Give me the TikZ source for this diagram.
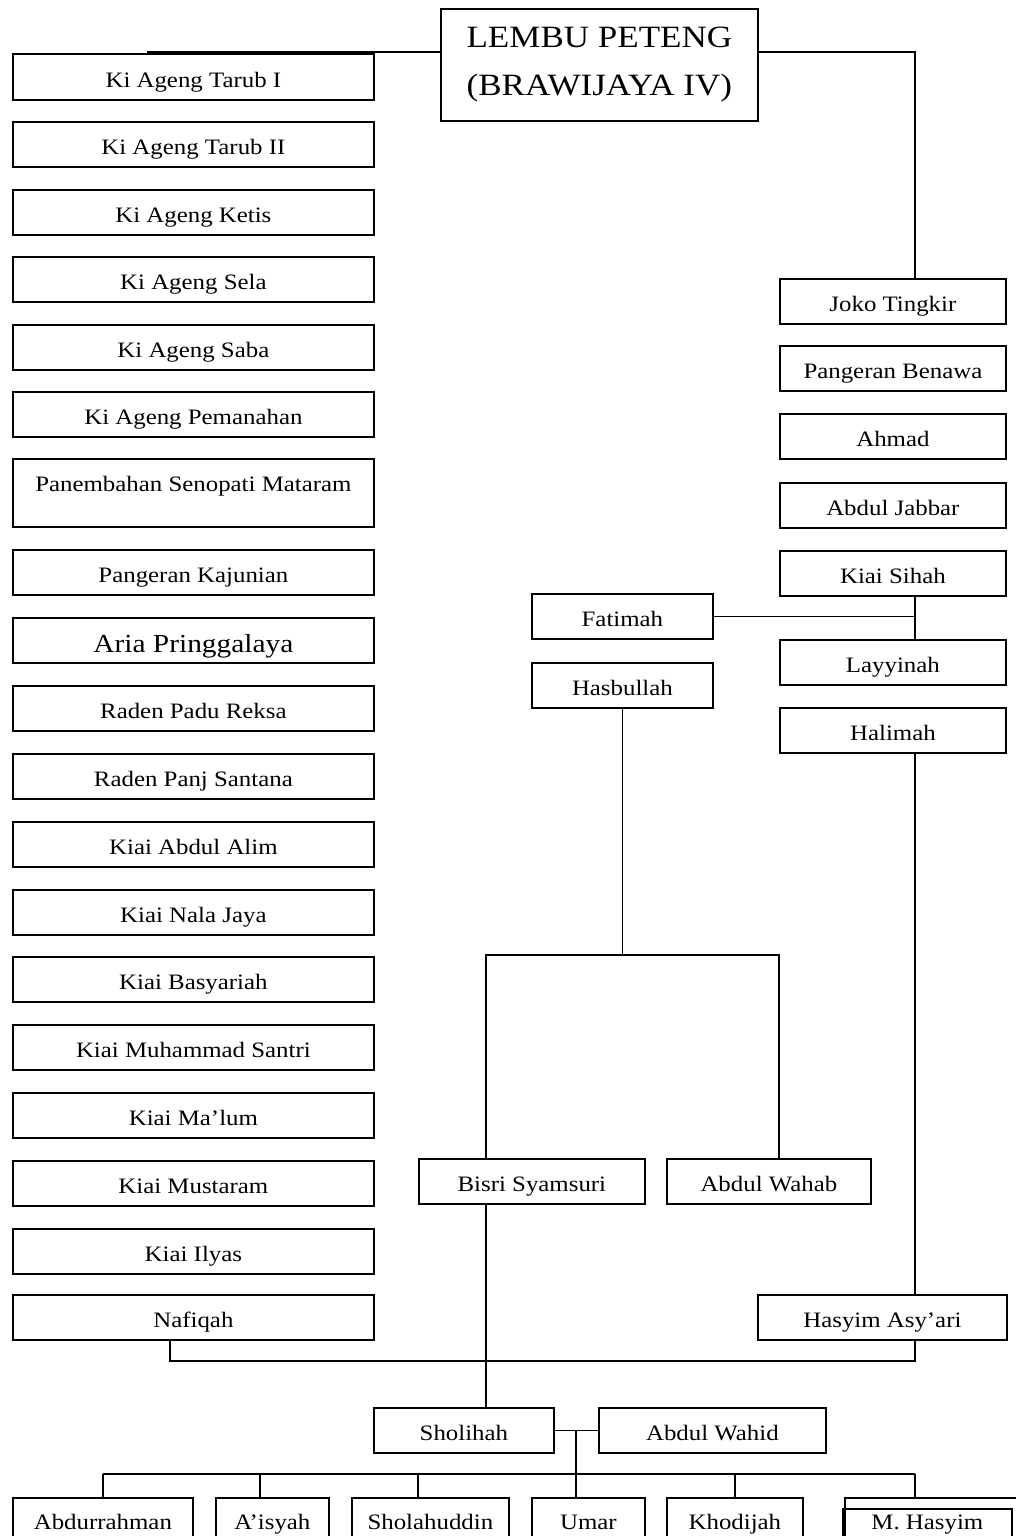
\documentclass[tikz,border=0pt]{standalone}
\usepackage{fontspec}
\setmainfont{Liberation Serif}[FakeStretch=1.13]
\begin{document}
\begin{tikzpicture}[x=1pt,y=-1pt,
  conn/.style={line width=1.8pt},
  box/.style={draw, line width=1.8pt, inner sep=0pt, anchor=north west,
    text height=33pt, text depth=12pt, font=\fontsize{22}{26}\selectfont},
  lbox/.style={box, minimum width=361pt},
  rbox/.style={box, minimum width=226pt},
  bbox/.style={box, text height=32pt, text depth=20pt}]
\useasboundingbox (0,0) rectangle (1016,1536);
\fill[white] (0,0) rectangle (1016,1536);
\clip (0,0) rectangle (1016,1536);

% top
\node[draw, line width=1.8pt, inner sep=0pt, anchor=north west, minimum width=317pt,
  minimum height=112pt, align=center, font=\fontsize{31}{48}\selectfont]
  (lembu) at (440,8) {LEMBU PETENG\\(BRAWIJAYA IV)};

% left column
\node[lbox, text height=34pt] (t1) at (12,53) {Ki Ageng Tarub I};
\node[lbox] (t2) at (12,121) {Ki Ageng Tarub II};
\node[lbox] (t3) at (12,189) {Ki Ageng Ketis};
\node[lbox] (t4) at (12,256) {Ki Ageng Sela};
\node[lbox] (t5) at (12,324) {Ki Ageng Saba};
\node[lbox] (t6) at (12,391) {Ki Ageng Pemanahan};
\node[lbox, text height=33pt, text depth=35pt] (t7) at (12,458) {Panembahan Senopati Mataram};
\node[lbox] (t8) at (12,549) {Pangeran Kajunian};
\node[lbox, text height=35pt, text depth=10pt, font=\fontsize{26}{30}\selectfont] (t9) at (12,617) {Aria Pringgalaya};
\node[lbox] (t10) at (12,685) {Raden Padu Reksa};
\node[lbox] (t11) at (12,753) {Raden Panj Santana};
\node[lbox] (t12) at (12,821) {Kiai Abdul Alim};
\node[lbox] (t13) at (12,889) {Kiai Nala Jaya};
\node[lbox] (t14) at (12,956) {Kiai Basyariah};
\node[lbox] (t15) at (12,1024) {Kiai Muhammad Santri};
\node[lbox] (t16) at (12,1092) {Kiai Ma’lum};
\node[lbox] (t17) at (12,1160) {Kiai Mustaram};
\node[lbox] (t18) at (12,1228) {Kiai Ilyas};
\node[lbox] (nafiqah) at (12,1294) {Nafiqah};

% right column
\node[rbox] (joko) at (779,278) {Joko Tingkir};
\node[rbox] (benawa) at (779,345) {Pangeran Benawa};
\node[rbox] (ahmad) at (779,413) {Ahmad};
\node[rbox] (jabbar) at (779,482) {Abdul Jabbar};
\node[rbox] (sihah) at (779,550) {Kiai Sihah};
\node[rbox] (layy) at (779,639) {Layyinah};
\node[rbox] (halimah) at (779,707) {Halimah};
\node[box, minimum width=249pt] (hasyim) at (757,1294) {Hasyim Asy’ari};

% middle
\node[box, minimum width=181pt] (fatimah) at (531,593) {Fatimah};
\node[box, minimum width=181pt] (hasb) at (531,662) {Hasbullah};
\node[box, minimum width=226pt] (bisri) at (418,1158) {Bisri Syamsuri};
\node[box, minimum width=204pt] (wahab) at (666,1158) {Abdul Wahab};
\node[box, minimum width=180pt] (sholihah) at (373,1407) {Sholihah};
\node[box, minimum width=227pt] (wahid) at (598,1407) {Abdul Wahid};

% bottom row
\node[bbox, minimum width=180pt] (abd) at (12,1497) {Abdurrahman};
\node[bbox, minimum width=113pt] (aisyah) at (215,1497) {A’isyah};
\node[bbox, minimum width=157pt] (shola) at (351,1497) {Sholahuddin};
\node[bbox, minimum width=113pt] (umar) at (531,1497) {Umar};
\node[bbox, minimum width=136pt] (khod) at (666,1497) {Khodijah};
\node[bbox, minimum width=190pt] (mhout) at (844,1497) {};
\node[box, minimum width=169pt, text height=21pt, text depth=20pt] (mh) at (842,1508) {M. Hasyim};

% column coordinates
\coordinate (rx) at (915,0);
\coordinate (tl) at (147,52);
\coordinate (bx) at (486,0);
\coordinate (wx) at (779,0);
\coordinate (bry) at (0,955);
\coordinate (nx) at (170,0);
\coordinate (cx) at (576,0);
\coordinate (ax) at (260,0);
\coordinate (sx) at (418,0);

% connectors
\draw[conn] (lembu.west |- tl) -- (tl);
\draw[conn] (lembu.east |- tl) -| (rx |- joko.north);
\draw[conn] (rx |- sihah.south) -- (rx |- layy.north);
\draw[conn] (fatimah.east) -- (rx |- fatimah.east);
\draw[conn] (rx |- halimah.south) -- (rx |- hasyim.north);
\draw[conn] (hasb.south) -- (hasb.south |- bry);
\draw[conn] (bx |- bisri.north) |- (wx |- bry) -- (wx |- wahab.north);
\draw[conn] (nx |- nafiqah.south) |- (rx |- 0,1361) -- (rx |- hasyim.south);
\draw[conn] (bx |- bisri.south) -- (bx |- sholihah.north);
\draw[conn] (sholihah.east) -- (wahid.west);
\draw[conn] (cx |- sholihah.east) -- (cx |- umar.north);
\draw[conn] (abd.north |- 0,1474) -- (rx |- 0,1474);
\draw[conn] (abd.north) -- (abd.north |- 0,1474);
\draw[conn] (ax |- aisyah.north) -- (ax |- 0,1474);
\draw[conn] (sx |- shola.north) -- (sx |- 0,1474);
\draw[conn] (khod.north) -- (khod.north |- 0,1474);
\draw[conn] (rx |- mhout.north) -- (rx |- 0,1474);
\end{tikzpicture}
\end{document}
